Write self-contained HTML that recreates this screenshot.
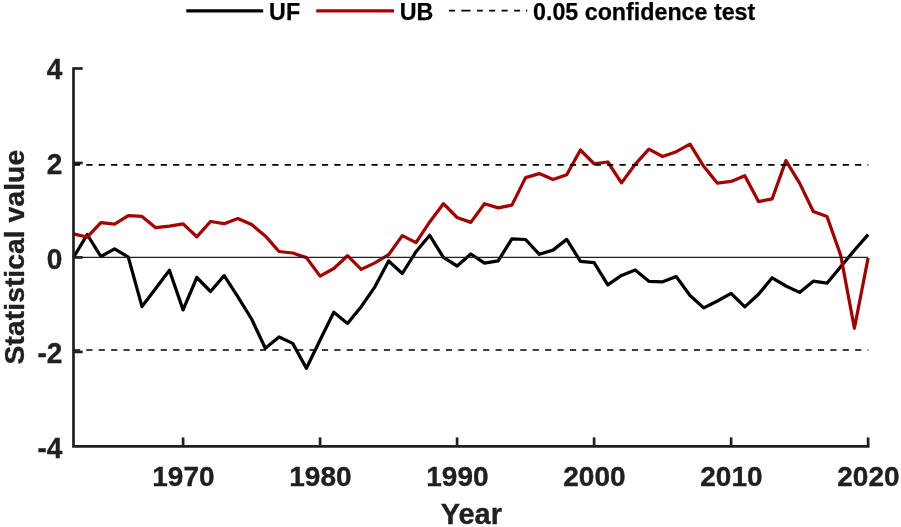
<!DOCTYPE html>
<html lang="en"><head><meta charset="utf-8"><title>Mann-Kendall test</title>
<style>
html,body{margin:0;padding:0;background:#fff;}
body{width:901px;height:527px;overflow:hidden;}
svg{display:block;}
text{font-family:"Liberation Sans",Arial,Helvetica,sans-serif;font-weight:bold;fill:#202020;stroke:#202020;stroke-width:0.35px;stroke-linejoin:round;}
.t{font-size:28px;}
.l{font-size:23.25px;fill:#000;stroke:#000;stroke-width:0.25px;}
.a{font-size:29px;}
.y{font-size:28.4px;}
</style></head><body>
<svg width="901" height="527" viewBox="0 0 901 527">
<rect width="901" height="527" fill="#fff"/>

<line x1="186.3" y1="10.8" x2="263.2" y2="10.8" stroke="#000" stroke-width="3.25"/>
<text class="l" x="269.1" y="19.9">UF</text>
<line x1="316.3" y1="10.8" x2="394" y2="10.8" stroke="#A70000" stroke-width="3.25"/>
<text class="l" x="399.8" y="19.9">UB</text>
<path d="M448.9 10.7H455M461.3 10.7H470.5M477 10.7H482.8M489.2 10.7H495.2M501.6 10.7H507.7M514.1 10.7H520.1M526 10.7H527.2" stroke="#000" stroke-width="1.75" fill="none"/>
<text class="l" x="533" y="19.9">0.05 confidence test</text>
<polyline points="73.50,257.45 87.20,234.50 100.90,256.50 114.60,248.80 128.30,257.10 142.00,306.60 155.70,288.40 169.40,270.30 183.10,309.90 196.80,277.50 210.50,291.50 224.20,275.60 237.90,296.80 251.60,319.00 265.30,348.20 279.00,337.00 292.70,343.40 306.40,368.30 320.10,340.00 333.80,312.30 347.50,323.50 361.20,306.70 374.90,286.80 388.60,261.00 402.30,273.50 416.00,251.70 429.70,235.30 443.40,257.40 457.10,266.00 470.80,254.00 484.50,263.20 498.20,260.80 511.90,238.90 525.60,239.50 539.30,254.30 553.00,250.10 566.70,239.40 580.40,261.30 594.10,262.60 607.80,284.80 621.50,275.40 635.20,269.90 648.90,281.30 662.60,281.80 676.30,276.60 690.00,295.50 703.70,307.90 717.40,301.00 731.10,293.30 744.80,306.90 758.50,294.30 772.20,277.80 785.90,286.00 799.60,292.40 813.30,281.20 827.00,283.20 840.70,266.80 854.40,250.30 868.10,234.60" fill="none" stroke="#000" stroke-width="3.25" stroke-linejoin="round"/>
<polyline points="73.50,233.90 87.20,237.10 100.90,222.60 114.60,224.20 128.30,215.70 142.00,216.40 155.70,227.70 169.40,226.20 183.10,223.90 196.80,236.80 210.50,221.50 224.20,223.70 237.90,218.60 251.60,224.60 265.30,235.90 279.00,251.50 292.70,253.00 306.40,257.60 320.10,276.10 333.80,268.50 347.50,255.70 361.20,269.40 374.90,262.90 388.60,254.70 402.30,235.60 416.00,242.60 429.70,221.90 443.40,203.70 457.10,217.50 470.80,222.40 484.50,203.70 498.20,207.90 511.90,205.10 525.60,177.60 539.30,173.60 553.00,179.50 566.70,174.75 580.40,150.00 594.10,163.75 607.80,162.00 621.50,182.90 635.20,164.30 648.90,149.10 662.60,156.50 676.30,151.70 690.00,144.10 703.70,166.30 717.40,183.20 731.10,181.40 744.80,175.70 758.50,201.60 772.20,198.80 785.90,160.60 799.60,183.10 813.30,211.50 827.00,216.50 840.70,255.30 854.40,328.30 868.10,258.00" fill="none" stroke="#A70000" stroke-width="3.25" stroke-linejoin="round"/>
<line x1="73.5" y1="257.45" x2="868.10" y2="257.45" stroke="#202020" stroke-width="1.3"/>
<line x1="73.9" y1="164.86" x2="868.30" y2="164.86" stroke="#000" stroke-width="1.6" stroke-dasharray="6.2 6.2"/>
<line x1="73.9" y1="350.04" x2="868.30" y2="350.04" stroke="#000" stroke-width="1.6" stroke-dasharray="6.2 6.2"/>
<path d="M73.5 67.15V446.40H869.45" fill="none" stroke="#202020" stroke-width="2.7" stroke-linejoin="miter"/>
<line x1="73.5" y1="68.50" x2="82.7" y2="68.50" stroke="#202020" stroke-width="2.7"/>
<text class="t" transform="translate(62.4 79.20) scale(1 1.04)" text-anchor="end">4</text>
<line x1="73.5" y1="162.97" x2="82.7" y2="162.97" stroke="#202020" stroke-width="2.7"/>
<text class="t" transform="translate(62.4 173.88) scale(1 1.04)" text-anchor="end">2</text>
<line x1="73.5" y1="257.45" x2="82.7" y2="257.45" stroke="#202020" stroke-width="2.7"/>
<text class="t" transform="translate(62.4 268.75) scale(1 1.04)" text-anchor="end">0</text>
<line x1="73.5" y1="351.92" x2="82.7" y2="351.92" stroke="#202020" stroke-width="2.7"/>
<text class="t" transform="translate(62.4 363.32) scale(1 1.04)" text-anchor="end">-2</text>
<text class="t" transform="translate(62.4 458.00) scale(1 1.04)" text-anchor="end">-4</text>
<line x1="183.10" y1="446.4" x2="183.10" y2="437.4" stroke="#202020" stroke-width="2.7"/>
<text class="t" transform="translate(183.40 485.8) scale(1 1.02)" text-anchor="middle">1970</text>
<line x1="320.10" y1="446.4" x2="320.10" y2="437.4" stroke="#202020" stroke-width="2.7"/>
<text class="t" transform="translate(320.40 485.8) scale(1 1.02)" text-anchor="middle">1980</text>
<line x1="457.10" y1="446.4" x2="457.10" y2="437.4" stroke="#202020" stroke-width="2.7"/>
<text class="t" transform="translate(457.40 485.8) scale(1 1.02)" text-anchor="middle">1990</text>
<line x1="594.10" y1="446.4" x2="594.10" y2="437.4" stroke="#202020" stroke-width="2.7"/>
<text class="t" transform="translate(594.40 485.8) scale(1 1.02)" text-anchor="middle">2000</text>
<line x1="731.10" y1="446.4" x2="731.10" y2="437.4" stroke="#202020" stroke-width="2.7"/>
<text class="t" transform="translate(731.40 485.8) scale(1 1.02)" text-anchor="middle">2010</text>
<line x1="868.10" y1="446.4" x2="868.10" y2="437.4" stroke="#202020" stroke-width="2.7"/>
<text class="t" transform="translate(868.40 485.8) scale(1 1.02)" text-anchor="middle">2020</text>
<text class="a" x="471.3" y="523.6" text-anchor="middle">Year</text>
<text class="y" transform="translate(23.6 257.1) rotate(-90)" text-anchor="middle">Statistical value</text>
</svg>
</body></html>
